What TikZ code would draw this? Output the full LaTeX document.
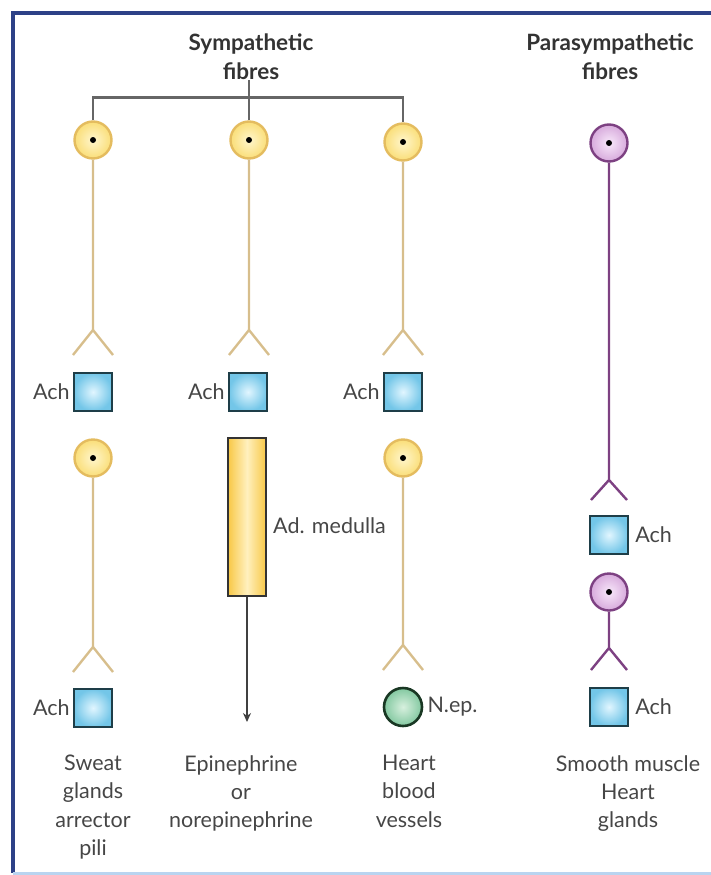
\documentclass[tikz,border=0pt]{standalone}
\usepackage{fontspec}
\setmainfont{Lato}
\usetikzlibrary{arrows.meta,positioning}
\definecolor{framebl}{RGB}{45,65,135}
\definecolor{framelt}{RGB}{185,212,240}
\definecolor{somafill}{RGB}{250,222,120}
\definecolor{somalite}{RGB}{255,246,205}
\definecolor{somaedge}{RGB}{228,188,95}
\definecolor{axontan}{RGB}{215,190,140}
\definecolor{purpfill}{RGB}{215,170,220}
\definecolor{purplite}{RGB}{248,232,250}
\definecolor{purpedge}{RGB}{125,65,130}
\definecolor{achfill}{RGB}{115,198,232}
\definecolor{achlite}{RGB}{225,246,255}
\definecolor{achedge}{RGB}{30,62,72}
\definecolor{nepfill}{RGB}{130,200,160}
\definecolor{neplite}{RGB}{215,240,222}
\definecolor{nepedge}{RGB}{25,55,35}
\definecolor{medgold}{RGB}{248,200,70}
\definecolor{medlite}{RGB}{255,240,190}
\definecolor{txtgray}{RGB}{70,70,70}

\begin{document}
\begin{tikzpicture}[x=1pt, y=-1pt,
    soma/.style={circle, draw=somaedge, line width=2.4pt, minimum size=37pt, inner sep=0pt,
                 inner color=somalite, outer color=somafill,
                 path picture={\fill[black] (path picture bounding box.center) circle (3pt);}},
    psoma/.style={soma, draw=purpedge, inner color=purplite, outer color=purpfill},
    axon/.style={axontan, line width=2.4pt},
    paxon/.style={purpedge, line width=2.4pt},
    ach/.style={rectangle, draw=achedge, line width=2.4pt, minimum size=38pt, inner sep=0pt,
                inner color=achlite, outer color=achfill},
    nep/.style={circle, draw=nepedge, line width=2.6pt, minimum size=38pt, inner sep=0pt,
                inner color=neplite, outer color=nepfill},
    medulla/.style={rectangle, draw=black!80, line width=2pt, minimum width=38pt, minimum height=158pt,
                inner sep=0pt, left color=medgold, right color=medgold, middle color=medlite},
    bracket/.style={black!60, line width=2.4pt},
    arr/.style={-{Stealth[length=9pt,width=8pt]}, black!75, line width=2.2pt},
    lbl/.style={font=\fontsize{21.5}{26}\selectfont, text=txtgray, inner sep=1pt},
    title/.style={font=\bfseries\fontsize{22.5}{29}\selectfont, text=black!80, align=center, inner sep=0pt},
    target/.style={font=\fontsize{21.5}{28.2}\selectfont, text=txtgray, align=center, anchor=north, inner sep=0pt}
]
\useasboundingbox (0,0) rectangle (711,875);
% frame
\draw[framebl, line width=3.5pt] (13,873) -- (13,13) -- (711,13);
\draw[framelt, line width=3pt] (13,873) -- (711,873);

% titles
\node[title] (symp) at (251,57) {Sympathetic\\fibres};
\node[title] (para) at (610,57) {Parasympathetic\\fibres};

% first row of neurons
\node[soma] (s1) at (93,140) {};
\node[soma] (s2) at (249,140) {};
\node[soma] (s3) at (403,142) {};
\node[psoma] (p1) at (609,143) {};

\draw[bracket] (s1.north) -- ++(0,-23) -| (s3.north);
\draw[bracket] (s2.north) -- (s2.north |- symp.south);

\coordinate (f1) at (93,330);
\coordinate (f2) at (249,330);
\coordinate (f3) at (403,330);
\draw[axon] (s1) -- (f1) (f1) -- ++(-20,25) (f1) -- ++(20,25);
\draw[axon] (s2) -- (f2) (f2) -- ++(-20,25) (f2) -- ++(20,25);
\draw[axon] (s3) -- (f3) (f3) -- ++(-20,25) (f3) -- ++(20,25);

\node[ach] (a1) at (93,392) {};
\node[ach] (a2) at (248,392) {};
\node[ach] (a3) at (403,392) {};
\node[lbl, left=2pt of a1] {Ach};
\node[lbl, left=2pt of a2] {Ach};
\node[lbl, left=2pt of a3] {Ach};

% second row
\node[soma] (s4) at (93,458) {};
\node[medulla] (med) at (247,517) {};
\node[soma] (s6) at (403,458) {};
\node[lbl, right=5pt of med, yshift=-9pt] {Ad. medulla};

\coordinate (f4) at (93,647);
\coordinate (f6) at (403,645);
\coordinate (tip) at (247,722);
\draw[axon] (s4) -- (f4) (f4) -- ++(-20,25) (f4) -- ++(20,25);
\draw[axon] (s6) -- (f6) (f6) -- ++(-20,25) (f6) -- ++(20,25);
\draw[arr] (med) -- (tip);

\node[ach] (a4) at (93,708) {};
\node[nep] (n6) at (403,707) {};
\node[lbl, left=2pt of a4] {Ach};
\node[lbl, right=3pt of n6] {N.ep.};

% parasympathetic chain
\coordinate (pf1) at (609,480);
\coordinate (pf2) at (609,648);
\draw[paxon] (p1) -- (pf1) (pf1) -- ++(-18,20) (pf1) -- ++(18,20);
\node[ach] (a5) at (609,535) {};
\node[lbl, right=5pt of a5] {Ach};
\node[psoma] (p2) at (609,592) {};
\draw[paxon] (p2) -- (pf2) (pf2) -- ++(-18,22) (pf2) -- ++(18,22);
\node[ach] (a6) at (609,707) {};
\node[lbl, right=5pt of a6] {Ach};

% targets
\node[target] (t1) at (93,755) {Sweat\\glands\\arrector\\pili};
\node[target] (t2) at (241,755) {Epinephrine\\or\\norepinephrine};
\node[target] (t3) at (409,755) {Heart\\blood\\vessels};
\node[target] (t4) at (628,755) {Smooth muscle\\Heart\\glands};
\end{tikzpicture}
\end{document}
